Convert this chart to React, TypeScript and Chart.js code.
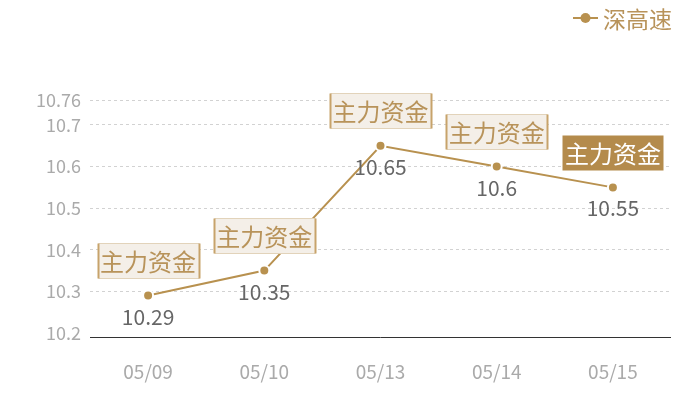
import React, { useEffect, useRef } from 'react';
import { Chart, registerables } from 'chart.js';

Chart.register(...registerables);

const dates = ['05/09', '05/10', '05/13', '05/14', '05/15'];
const prices = [10.29, 10.35, 10.65, 10.6, 10.55];
const seriesName = '深高速';
const tagText = '主力资金';
const yMin = 10.2;
const yMax = 10.76;

const GOLD = '#b8914f';
const FONT = '"Noto Sans CJK SC", "Noto Sans", sans-serif';

// value labels under points + "主力资金" tags above, and the legend in the top right
const overlayPlugin = {
  id: 'overlay',
  beforeDatasetsDraw(chart) {
    // x axis line sits a few px under the plot bottom
    const ctx = chart.ctx;
    const area = chart.chartArea;
    const ly = Math.round(area.bottom + 4) + 0.5;
    ctx.save();
    ctx.strokeStyle = '#333';
    ctx.lineWidth = 1;
    ctx.beginPath();
    ctx.moveTo(area.left, ly);
    ctx.lineTo(area.right, ly);
    ctx.stroke();
    ctx.restore();
  },
  afterDatasetsDraw(chart) {
    const ctx = chart.ctx;
    const meta = chart.getDatasetMeta(0);
    ctx.save();
    meta.data.forEach((pt, i) => {
      const x = pt.x;
      const y = pt.y;
      // value
      ctx.font = `21px ${FONT}`;
      ctx.fillStyle = '#666';
      ctx.textAlign = 'center';
      ctx.textBaseline = 'middle';
      ctx.fillText(String(prices[i]), x, y + 21);

      // tag box
      const last = i === meta.data.length - 1;
      const w = 101;
      const h = 35;
      const bx = Math.round(x - w / 2) + 0.5;
      const by = Math.round(y - 35 - h / 2) + 0.5;
      ctx.fillStyle = last ? '#b48b4c' : '#f4efe8';
      ctx.fillRect(bx, by, w, h);
      if (!last) {
        ctx.lineWidth = 1;
        ctx.strokeStyle = '#e2d3ba';
        ctx.beginPath();
        ctx.moveTo(bx, by);
        ctx.lineTo(bx + w, by);
        ctx.moveTo(bx, by + h);
        ctx.lineTo(bx + w, by + h);
        ctx.stroke();
        ctx.lineWidth = 2;
        ctx.strokeStyle = '#c7a36b';
        ctx.beginPath();
        ctx.moveTo(bx, by);
        ctx.lineTo(bx, by + h);
        ctx.moveTo(bx + w, by);
        ctx.lineTo(bx + w, by + h);
        ctx.stroke();
      }
      ctx.font = `24px ${FONT}`;
      ctx.fillStyle = last ? '#ffffff' : '#b8935a';
      ctx.fillText(tagText, x, by + h / 2 + 1);
    });

    // legend
    ctx.strokeStyle = GOLD;
    ctx.lineWidth = 2;
    ctx.beginPath();
    ctx.moveTo(573, 18);
    ctx.lineTo(598, 18);
    ctx.stroke();
    ctx.fillStyle = GOLD;
    ctx.beginPath();
    ctx.arc(585.5, 18, 5, 0, Math.PI * 2);
    ctx.fill();
    ctx.font = `23px ${FONT}`;
    ctx.textAlign = 'left';
    ctx.fillStyle = '#b8935a';
    ctx.fillText(seriesName, 603, 19);
    ctx.restore();
  },
};

export default function App() {
  const canvasRef = useRef(null);

  useEffect(() => {
    if (!canvasRef.current) return;
    const chart = new Chart(canvasRef.current, {
      type: 'line',
      data: {
        labels: dates,
        datasets: [
          {
            label: seriesName,
            data: prices,
            borderColor: GOLD,
            backgroundColor: GOLD,
            borderWidth: 2,
            pointRadius: 5,
            pointBorderColor: '#ffffff',
            pointBorderWidth: 2,
            pointBackgroundColor: GOLD,
            tension: 0,
          },
        ],
      },
      options: {
        animation: false,
        responsive: false,
        devicePixelRatio: 1,
        layout: { padding: { top: 100, right: 29, left: 0, bottom: 0 } },
        plugins: {
          legend: { display: false },
          tooltip: { enabled: false },
        },
        scales: {
          x: {
            offset: true,
            grid: { display: false, drawTicks: false },
            border: { display: false },
            ticks: {
              color: '#aaa',
              font: { family: FONT, size: 19 },
              padding: 27,
            },
            afterFit(scale) {
              scale.height = 67;
            },
          },
          y: {
            min: yMin,
            max: yMax,
            grid: {
              color: (c) => (c.tick && c.tick.value === yMin ? 'rgba(0,0,0,0)' : '#d2d2d2'),
              drawTicks: false,
            },
            border: { display: false, dash: [3, 3] },
            ticks: {
              stepSize: 0.1,
              color: '#aaa',
              font: { family: FONT, size: 18 },
              padding: 9,
              callback: (v) => String(Math.round(Number(v) * 100) / 100),
            },
            afterFit(scale) {
              scale.width = 90;
            },
          },
        },
      },
      plugins: [overlayPlugin],
    });
    return () => chart.destroy();
  }, []);

  return (
    <div style={{ position: 'fixed', left: 0, top: 0, width: 700, height: 400, background: '#fff' }}>
      <canvas ref={canvasRef} width={700} height={400} />
    </div>
  );
}
